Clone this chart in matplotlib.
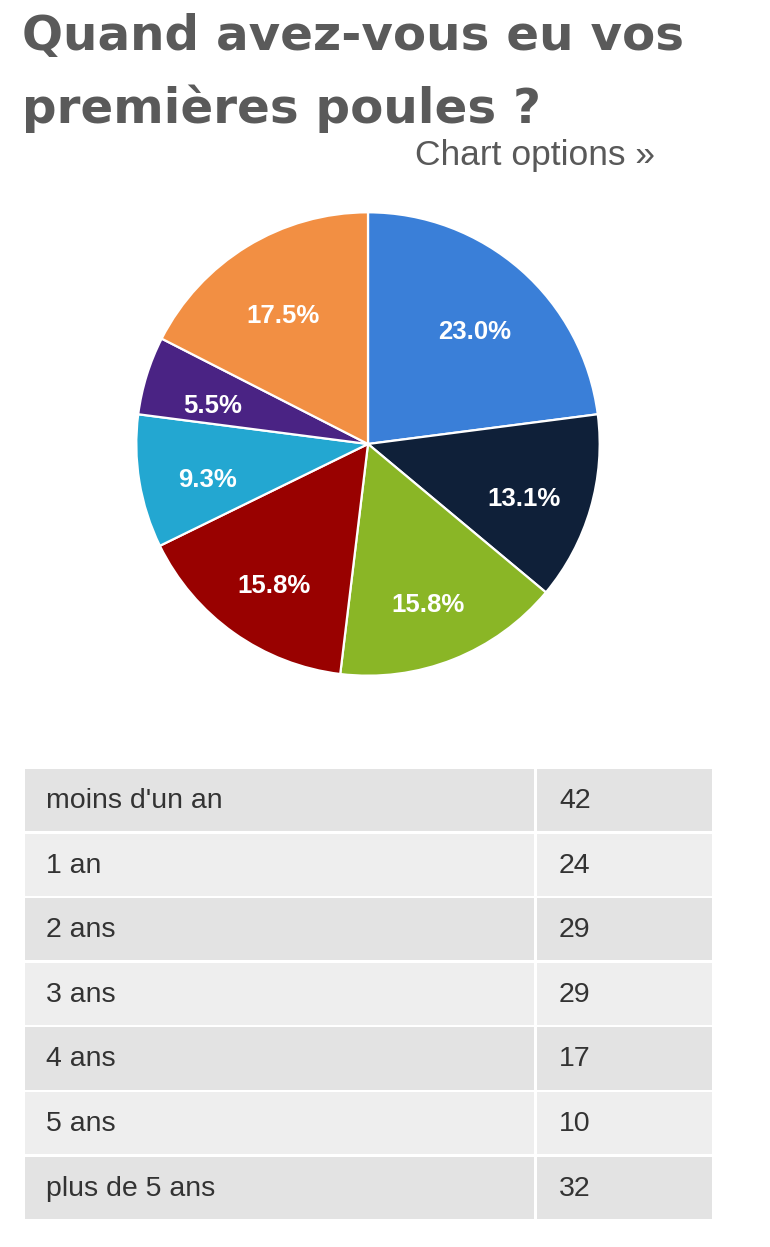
import matplotlib.pyplot as plt
from matplotlib.patches import Rectangle

# ================= 数据 =================
categories = ["moins d'un an", '1 an', '2 ans', '3 ans', '4 ans', '5 ans', 'plus de 5 ans']
counts = [42, 24, 29, 29, 17, 10, 32]
colors = ['#3a7fd8', '#0f2039', '#8ab626', '#990100', '#23a7d1', '#4a2384', '#f28f43']

title_lines = ['Quand avez-vous eu vos', 'premières poules ?']
link_text = 'Chart options \u00bb'

W, H = 770, 1247
fig = plt.figure(figsize=(W / 100, H / 100), dpi=100)
fig.patch.set_facecolor('white')

# 背景坐标系：像素坐标
bg = fig.add_axes([0, 0, 1, 1])
bg.set_xlim(0, W)
bg.set_ylim(H, 0)
bg.axis('off')

# 标题
bg.text(22, 50, title_lines[0], fontsize=34.8, fontweight='bold', color='#5a5a5a',
        family='DejaVu Sans', va='baseline', ha='left')
bg.text(22, 123, title_lines[1], fontsize=34.8, fontweight='bold', color='#5a5a5a',
        family='DejaVu Sans', va='baseline', ha='left')
bg.text(655, 165, link_text, fontsize=25.5, color='#595959',
        family='Liberation Sans', va='baseline', ha='right')

# ================= 饼图 =================
cx, cy, r = 368, 444, 234
pie_ax = fig.add_axes([(cx - r) / W, 1 - (cy + r) / H, 2 * r / W, 2 * r / H])
wedges, texts, autotexts = pie_ax.pie(
    counts, colors=colors, startangle=90, counterclock=False,
    autopct='%1.1f%%', pctdistance=0.70,
    wedgeprops=dict(edgecolor='white', linewidth=1.6),
    textprops=dict(color='white', fontsize=18.5, fontweight='bold',
                   family='Liberation Sans'))
# 标签整体略微下移（与原图一致）
for t in autotexts:
    x, y = t.get_position()
    t.set_position((x, y - 10 / r))
pie_ax.set_xlim(-1.01, 1.01)
pie_ax.set_ylim(-1.01, 1.01)
pie_ax.set_aspect('equal')

# ================= 表格 =================
top = 769
pitch = 64.6
gap = 2.5
col1 = (25, 534)
col2 = (537, 712)
for i, (name, n) in enumerate(zip(categories, counts)):
    y0 = top + i * pitch
    fc = '#e3e3e3' if i % 2 == 0 else '#eeeeee'
    bg.add_patch(Rectangle((col1[0], y0), col1[1] - col1[0], pitch - gap, facecolor=fc, edgecolor='none'))
    bg.add_patch(Rectangle((col2[0], y0), col2[1] - col2[0], pitch - gap, facecolor=fc, edgecolor='none'))
    ym = y0 + (pitch - gap) / 2
    bg.text(46, ym + 1, name, fontsize=20.5, color='#333333', family='Liberation Sans',
            va='center', ha='left')
    bg.text(559, ym + 1, str(n), fontsize=20.5, color='#333333', family='Liberation Sans',
            va='center', ha='left')

fig.savefig('out.png', dpi=100, facecolor='white')
